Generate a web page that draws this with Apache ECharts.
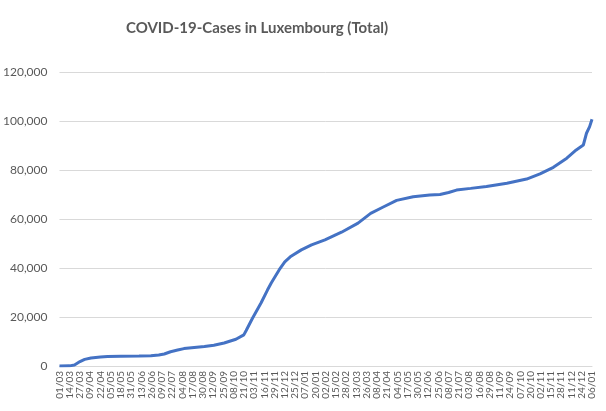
<!DOCTYPE html>
<html>
<head>
<meta charset="utf-8">
<script src="https://cdn.jsdelivr.net/npm/echarts@6/dist/echarts.min.js"></script>
<style>
  html, body { margin: 0; padding: 0; background: #fff; }
  #chart { width: 606px; height: 411px; }
</style>
</head>
<body>
<div id="chart"></div>
<script>
// axis range: one category per day
const firstDay = '2020-03-01';
const lastDay = '2022-01-06';

// readings of the total
const pointDates = [
  '2020-03-01', '2020-03-14', '2020-03-20', '2020-03-27', '2020-04-02', '2020-04-10',
  '2020-04-22', '2020-05-01', '2020-05-18', '2020-06-10', '2020-06-25', '2020-07-05',
  '2020-07-12', '2020-07-20', '2020-07-29', '2020-08-06', '2020-08-19', '2020-09-01',
  '2020-09-13', '2020-09-26', '2020-10-11', '2020-10-21', '2020-10-24', '2020-11-01',
  '2020-11-12', '2020-11-20', '2020-11-25', '2020-12-05', '2020-12-12', '2020-12-20',
  '2021-01-02', '2021-01-15', '2021-02-01', '2021-02-22', '2021-03-15', '2021-03-31',
  '2021-04-16', '2021-05-03', '2021-05-24', '2021-06-14', '2021-06-27', '2021-07-08',
  '2021-07-18', '2021-08-05', '2021-08-25', '2021-09-20', '2021-10-15', '2021-11-01',
  '2021-11-18', '2021-12-05', '2021-12-17', '2021-12-26', '2021-12-30', '2022-01-03',
  '2022-01-06'
];
const totalCases = [
  0, 60, 400, 1800, 2700, 3300,
  3700, 3900, 3990, 4050, 4150, 4500,
  4900, 5800, 6500, 7100, 7550, 7950,
  8500, 9400, 10900, 12700, 14500, 19500,
  25800, 31000, 34000, 39300, 42500, 44800,
  47400, 49400, 51500, 54600, 58300, 62300,
  64900, 67600, 69100, 69800, 70000, 70800,
  71800, 72500, 73300, 74600, 76300, 78400,
  81100, 84800, 88200, 90200, 95000, 97700,
  100700
];

const yTicks = { min: 0, max: 120000, interval: 20000 };

function dayList(from, to) {
  const out = [];
  const d = new Date(from + 'T00:00:00Z');
  const end = new Date(to + 'T00:00:00Z');
  while (d <= end) {
    out.push(d.toISOString().slice(0, 10));
    d.setUTCDate(d.getUTCDate() + 1);
  }
  return out;
}

const days = dayList(firstDay, lastDay);
const chart = echarts.init(document.getElementById('chart'));

chart.setOption({
  animation: false,
  title: {
    text: 'COVID-19-Cases in Luxembourg (Total)',
    left: 121,
    top: 16,
    textStyle: {
      fontFamily: 'Lato',
      fontSize: 15,
      fontWeight: 'bold',
      color: '#595959'
    }
  },
  grid: { left: 58, right: 14, top: 72, bottom: 45 },
  xAxis: {
    type: 'category',
    data: days,
    boundaryGap: false,
    axisLine: { lineStyle: { color: '#d9d9d9' } },
    axisTick: { show: false },
    axisLabel: {
      interval: 12,
      showMinLabel: true,
      showMaxLabel: true,
      hideOverlap: false,
      rotate: 90,
      margin: 5,
      fontFamily: 'Lato',
      fontSize: 10,
      lineHeight: 8,
      color: '#595959',
      formatter: v => v.slice(8, 10) + '/' + v.slice(5, 7)
    }
  },
  yAxis: {
    type: 'value',
    min: yTicks.min,
    max: yTicks.max,
    interval: yTicks.interval,
    axisLine: { show: false },
    axisTick: { show: false },
    splitLine: { lineStyle: { color: '#d9d9d9' } },
    axisLabel: {
      margin: 12,
      fontFamily: 'Lato',
      fontSize: 12,
      color: '#595959',
      formatter: v => v.toLocaleString('en-US')
    }
  },
  series: [{
    type: 'line',
    data: pointDates.map((d, i) => [d, totalCases[i]]),
    showSymbol: false,
    lineStyle: { color: '#4472c4', width: 3 }
  }]
});
</script>
</body>
</html>
